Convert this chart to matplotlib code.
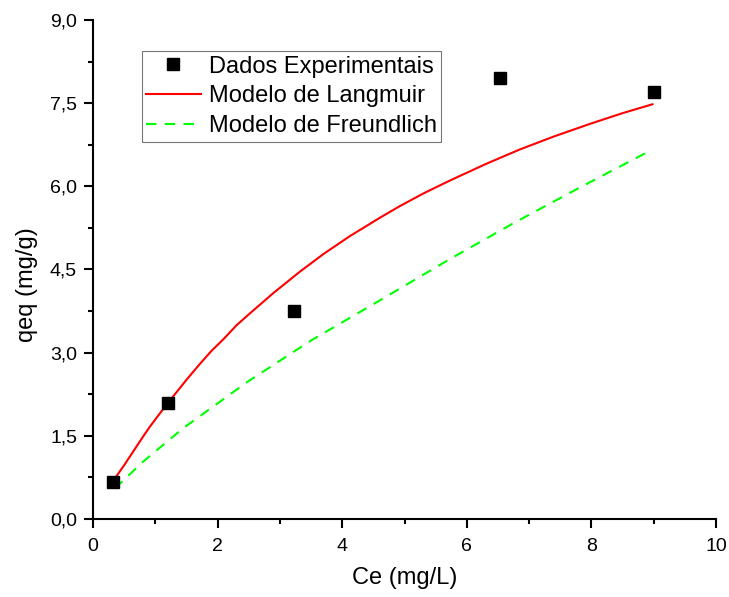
import numpy as np
import matplotlib.pyplot as plt
from matplotlib.ticker import MultipleLocator, FuncFormatter

plt.rcParams['font.family'] = ['Liberation Sans', 'DejaVu Sans']

# experimental equilibrium data
ce_exp = [0.32, 1.20, 3.22, 6.54, 9.00]
qe_exp = [0.67, 2.10, 3.75, 7.95, 7.70]

# Langmuir fit curve
ce_lang = [0.32, 0.40, 0.50, 0.60, 0.70, 0.80, 0.91, 1.05, 1.20, 1.35, 1.50, 1.71,
           1.90, 2.10, 2.30, 2.52, 2.90, 3.32, 3.70, 4.12, 4.60, 4.92, 5.30, 5.72,
           6.30, 6.84, 7.40, 7.96, 8.50, 8.98]
qe_lang = [0.68, 0.81, 0.97, 1.14, 1.31, 1.48, 1.66, 1.87, 2.09, 2.30, 2.51, 2.79,
           3.03, 3.25, 3.49, 3.71, 4.08, 4.46, 4.78, 5.10, 5.43, 5.64, 5.87, 6.10,
           6.40, 6.66, 6.90, 7.12, 7.32, 7.48]

# Freundlich fit curve
ce_freu = [0.35, 0.80, 1.45, 2.50, 3.50, 4.60, 5.70, 6.74, 7.80, 8.87]
qe_freu = [0.55, 1.03, 1.64, 2.49, 3.22, 3.94, 4.67, 5.33, 5.97, 6.60]

fig = plt.figure(figsize=(7.29, 5.97), dpi=100)
ax = fig.add_axes([0.1276, 0.1307, 0.8546, 0.8358])

ax.plot(ce_exp, qe_exp, 's', color='black', markersize=8, label='Dados Experimentais', zorder=3)
ax.plot(ce_lang, qe_lang, '-', color='red', lw=1.5, label='Modelo de Langmuir')
ax.plot(ce_freu, qe_freu, '--', color='#00ff00', lw=1.5, dashes=(5, 4), label='Modelo de Freundlich')

ax.set_xlim(0, 10)
ax.set_ylim(0, 9)
ax.xaxis.set_major_locator(MultipleLocator(2))
ax.xaxis.set_minor_locator(MultipleLocator(1))
ax.yaxis.set_major_locator(MultipleLocator(1.5))
ax.yaxis.set_minor_locator(MultipleLocator(0.75))
ax.yaxis.set_major_formatter(FuncFormatter(lambda v, p: f'{v:.1f}'.replace('.', ',')))

for s in ['top', 'right']:
    ax.spines[s].set_visible(False)
for s in ['left', 'bottom']:
    ax.spines[s].set_linewidth(1.5)
ax.tick_params(which='major', direction='out', length=6.5, width=1.5, labelsize=14)
ax.tick_params(which='minor', direction='out', length=3.5, width=1.5)
ax.tick_params(axis='x', which='major', pad=7)
ax.tick_params(axis='y', which='major', pad=5)

ax.set_xlabel('Ce (mg/L)', fontsize=17)
ax.set_ylabel('qeq (mg/g)', fontsize=17)
ax.xaxis.set_label_coords(0.5, -0.096)
ax.yaxis.set_label_coords(-0.088, 0.469)

leg = ax.legend(loc='upper left', bbox_to_anchor=(0.078, 0.938), fontsize=17, frameon=True,
                fancybox=False, handlelength=2.3, handletextpad=0.34, borderpad=0.2,
                labelspacing=0.33, borderaxespad=0)
leg.get_frame().set_edgecolor('#555555')
leg.get_frame().set_linewidth(0.8)

fig.savefig('out.png', dpi=100)
